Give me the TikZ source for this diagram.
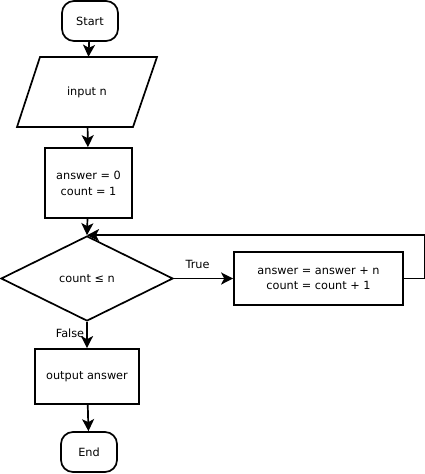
\documentclass[tikz,border=0pt]{standalone}
\usepackage{fontspec}
\setmainfont{DejaVu Sans}
\usetikzlibrary{arrows.meta,shapes.geometric}
\begin{document}
\begin{tikzpicture}[x=1pt,y=-1pt,
  every node/.style={font=\fontsize{11.3}{15.8}\selectfont},
  conn/.style={line width=1.7pt, -{Stealth[length=12pt,width=12pt,inset=3pt]}},
  term/.style={draw, line width=1.7pt, rounded corners=12pt, minimum width=56pt, minimum height=40pt, inner sep=0pt},
  proc/.style={draw, line width=1.7pt, inner sep=0pt, align=center},
  lbl/.style={font=\fontsize{11.3}{13}\selectfont, inner sep=1pt}]
\useasboundingbox (0,0) rectangle (425,474);
\node[term] (start) at (90,21) {Start};
% parallelogram
\draw[line width=1.7pt] (40,57) -- (157,57) -- (133,127) -- (17,127) -- cycle;
\node[minimum width=117pt, minimum height=70pt, inner sep=0pt] (inp) at (87,92) {input n};
\node[proc, minimum width=87pt, minimum height=70pt] (init) at (88.5,183) {answer = 0\\count = 1};
\node[draw, diamond, line width=1.7pt, aspect=2.02, minimum width=172pt, minimum height=85pt, inner sep=0pt] (dec) at (87,278.5) {count ≤ n};
\node[proc, minimum width=169pt, minimum height=53pt] (body) at (318.5,278.5) {answer = answer + n\\count = count + 1};
\node[proc, minimum width=104pt, minimum height=55pt] (out) at (87,376.5) {output answer};
\node[term] (end) at (89,452) {End};
\draw[conn] (start) -- (inp);
\draw[conn] (inp) -- (init);
\draw[conn] (init) -- (dec.north);
\draw[conn] (dec.east) -- node[lbl, pos=0.4, above=8pt] {True} (body.west);
\draw[conn] (body.east) -- ++(21,0) |- (dec.north);
\draw[conn] (dec.south) -- node[lbl, pos=0.45, left=1pt] {False} (out.north);
\draw[conn] (out) -- (end);
\end{tikzpicture}
\end{document}
